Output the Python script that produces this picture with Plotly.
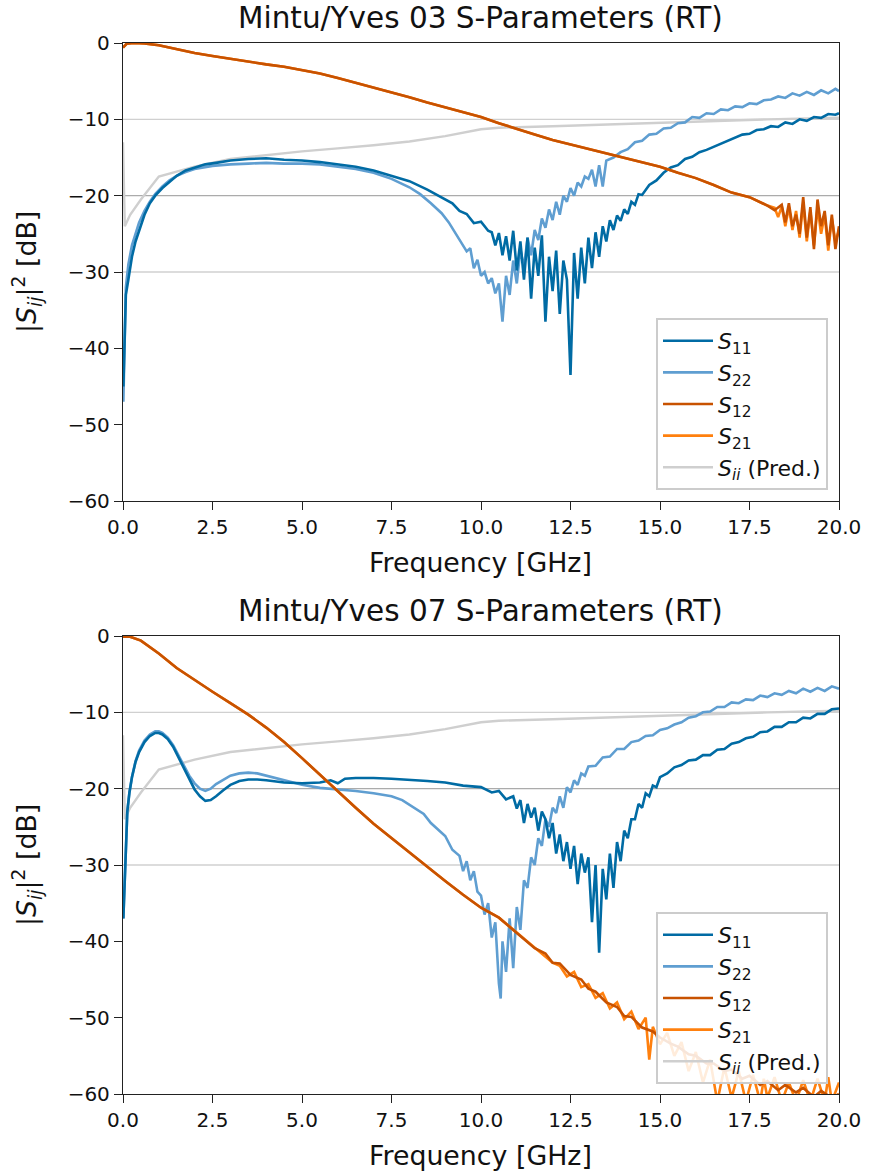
import plotly.graph_objects as go

# ---------------- Data: Mintu/Yves 03 ----------------
f_s11_03 = [0.01, 0.04, 0.08, 0.15, 0.25, 0.35, 0.45, 0.6, 0.75, 0.9, 1.1, 1.3, 1.5, 1.75, 2.0, 2.3, 2.6, 3.0, 3.5, 4.0,
            4.5, 5.0, 5.5, 6.0, 6.5, 7.0, 7.5, 8.0, 8.5, 9.0, 9.2, 9.4, 9.6, 9.8, 10.0, 10.2,
            10.3, 10.4, 10.5, 10.6, 10.7, 10.8, 10.9, 11.0, 11.1, 11.2, 11.3, 11.4, 11.5, 11.6, 11.7, 11.8, 11.9,
            12.0, 12.1, 12.2, 12.3, 12.4, 12.5, 12.6, 12.7, 12.8, 12.9, 13.0, 13.1, 13.2, 13.3, 13.4, 13.5, 13.6,
            13.7, 13.8, 13.9, 14.0, 14.1, 14.2, 14.3, 14.4, 14.5, 14.7, 14.9, 15.1, 15.3, 15.5, 15.7, 15.9, 16.1,
            16.3, 16.5, 16.7, 16.9, 17.1, 17.3, 17.5, 17.7, 17.9, 18.1, 18.3, 18.5, 18.7, 18.9, 19.1, 19.3, 19.5,
            19.7, 19.9, 20.0]
s11_03 = [-45, -40, -33, -31, -28, -26, -24.5, -22.5, -21, -20, -19, -18.2, -17.4, -16.7, -16.3, -15.9, -15.7, -15.4, -15.2, -15.1,
          -15.3, -15.4, -15.6, -15.9, -16.2, -16.7, -17.4, -18.1, -19.2, -20.5, -21.0, -22.0, -22.4, -23.6, -23.4, -24.6,
          -24.8, -26.5, -24.9, -27.8, -25.3, -28.5, -24.6, -29.8, -26.0, -31.0, -25.5, -33.5, -26.8, -30.5, -25.2, -36.5, -28.0,
          -32.5, -27.2, -35.5, -28.5, -31.0, -43.5, -27.5, -33.5, -26.8, -31.5, -25.5, -29.5, -24.8, -28.0, -24.0, -26.0, -23.2,
          -24.5, -22.6, -23.3, -21.8, -22.4, -20.8, -21.2, -19.8, -19.9, -18.6, -18.0, -17.0, -16.3, -16.0, -15.2, -14.9, -14.3,
          -14.0, -13.6, -13.2, -12.8, -12.4, -12.0, -11.9, -11.4, -11.3, -10.9, -11.0, -10.4, -10.6, -10.0, -10.2, -9.7, -9.8,
          -9.3, -9.4, -9.2]

f_s22_03 = [0.01, 0.04, 0.08, 0.15, 0.25, 0.35, 0.45, 0.6, 0.75, 0.9, 1.1, 1.3, 1.5, 1.75, 2.0, 2.5, 3.0, 3.5, 4.0, 4.5,
            5.0, 5.5, 6.0, 6.5, 7.0, 7.5, 8.0, 8.3, 8.6, 8.9, 9.1, 9.3, 9.5, 9.6, 9.7, 9.8, 9.9, 10.0, 10.1, 10.2,
            10.3, 10.4, 10.5, 10.6, 10.7, 10.8, 10.9, 11.0, 11.1, 11.2, 11.3, 11.4, 11.5, 11.6, 11.7, 11.8, 11.9, 12.0,
            12.1, 12.2, 12.3, 12.4, 12.5, 12.6, 12.7, 12.8, 12.9, 13.0, 13.1, 13.2, 13.3, 13.4, 13.5, 13.7, 13.9, 14.1,
            14.3, 14.5, 14.7, 14.9, 15.1, 15.3, 15.5, 15.7, 15.9, 16.1, 16.3, 16.5, 16.7, 16.9, 17.1, 17.3, 17.5, 17.7,
            17.9, 18.1, 18.3, 18.5, 18.7, 18.9, 19.1, 19.3, 19.5, 19.7, 19.9, 20.0]
s22_03 = [-47, -38, -32, -29, -26.5, -25, -23.5, -22, -20.8, -19.8, -18.8, -18.0, -17.4, -16.9, -16.5, -16.1, -15.9, -15.8, -15.7, -15.8,
          -15.8, -15.9, -16.2, -16.5, -17.0, -17.8, -18.9, -19.8, -21.0, -22.3, -23.5, -25.0, -26.5, -27.3, -26.9, -29.5, -28.4, -30.5, -30.0, -31.5,
          -30.8, -32.8, -31.5, -36.5, -30.5, -33.0, -28.5, -31.5, -27.0, -29.5, -25.5, -27.8, -24.5, -25.8, -23.0, -24.2, -21.8, -23.2,
          -20.8, -22.5, -20.0, -20.8, -19.0, -20.0, -18.3, -18.8, -17.5, -17.8, -16.6, -18.8, -16.0, -18.8, -15.4, -15.0, -14.3, -13.9,
          -13.0, -12.8, -12.0, -11.9, -11.2, -11.1, -10.5, -10.4, -9.7, -9.8, -9.2, -9.3, -8.7, -8.8, -8.3, -8.4, -7.9, -8.0,
          -7.5, -7.4, -7.0, -7.2, -6.6, -6.9, -6.4, -6.8, -6.2, -6.6, -6.0, -6.3]

f_s12_03 = [0.0, 0.1, 0.3, 0.6, 1.0, 1.5, 2.0, 2.5, 3.0, 3.5, 4.0, 4.5, 5.0, 5.5, 6.0, 6.5, 7.0, 7.5, 8.0, 8.5,
            9.0, 9.5, 10.0, 10.5, 11.0, 11.5, 12.0, 12.5, 13.0, 13.5, 14.0, 14.5, 15.0, 15.5, 16.0, 16.5, 17.0, 17.5,
            17.8, 18.0, 18.2, 18.4, 18.5, 18.6, 18.7, 18.8, 18.9, 19.0, 19.1, 19.2, 19.3, 19.4, 19.5, 19.6, 19.7,
            19.8, 19.9, 20.0]
s12_03 = [-0.6, -0.1, 0.0, -0.05, -0.3, -0.8, -1.3, -1.7, -2.1, -2.4, -2.8, -3.1, -3.5, -4.0, -4.6, -5.2, -5.8, -6.5, -7.1, -7.8,
          -8.4, -9.1, -9.7, -10.5, -11.3, -12.0, -12.7, -13.3, -13.9, -14.5, -15.0, -15.6, -16.2, -17.0, -17.7, -18.6, -19.6, -20.2,
          -20.8, -21.3, -21.9, -21.2, -23.5, -21.0, -24.0, -22.5, -25.0, -20.2, -25.5, -21.5, -27.0, -20.5, -24.0, -22.0, -26.5,
          -22.5, -27.0, -24.0]

f_s21_03 = [0.0, 0.1, 0.3, 0.6, 1.0, 1.5, 2.0, 2.5, 3.0, 3.5, 4.0, 4.5, 5.0, 5.5, 6.0, 6.5, 7.0, 7.5, 8.0, 8.5,
            9.0, 9.5, 10.0, 10.5, 11.0, 11.5, 12.0, 12.5, 13.0, 13.5, 14.0, 14.5, 15.0, 15.5, 16.0, 16.5, 17.0, 17.5,
            18.0, 18.2, 18.3, 18.4, 18.5, 18.6, 18.7, 18.8, 18.9, 19.0, 19.1, 19.2, 19.3, 19.4, 19.5, 19.6, 19.7,
            19.8, 19.9, 20.0]
s21_03 = [-0.6, -0.1, 0.0, -0.05, -0.3, -0.8, -1.3, -1.7, -2.1, -2.4, -2.8, -3.1, -3.5, -4.0, -4.6, -5.2, -5.8, -6.5, -7.1, -7.8,
          -8.4, -9.1, -9.7, -10.5, -11.3, -12.0, -12.7, -13.3, -13.9, -14.5, -15.0, -15.6, -16.2, -17.0, -17.7, -18.6, -19.6, -20.2,
          -21.3, -21.6, -22.8, -21.4, -24.0, -21.5, -24.5, -22.0, -25.5, -21.0, -26.0, -22.0, -26.5, -21.5, -25.0, -22.5, -27.2,
          -23.0, -26.0, -24.5]

# ---------------- Data: Mintu/Yves 07 ----------------
f_s11_07 = [0.01, 0.04, 0.08, 0.12, 0.18, 0.25, 0.35, 0.45, 0.6, 0.75, 0.9, 1.0, 1.1, 1.25, 1.4, 1.55, 1.7, 1.85, 2.0, 2.15,
            2.3, 2.45, 2.6, 2.8, 3.0, 3.25, 3.5, 3.75, 4.0, 4.5, 5.0, 5.5, 5.8, 6.0, 6.2, 6.5, 7.0, 7.5, 8.0, 8.5,
            9.0, 9.5, 10.0, 10.3, 10.5, 10.7, 10.9, 11.0, 11.1, 11.2, 11.3, 11.4, 11.5, 11.6, 11.7, 11.8, 11.9, 12.0,
            12.1, 12.2, 12.3, 12.4, 12.5, 12.6, 12.7, 12.8, 12.9, 13.0, 13.1, 13.2, 13.3, 13.4, 13.5, 13.6, 13.7, 13.8,
            13.9, 14.0, 14.1, 14.2, 14.3, 14.4, 14.5, 14.6, 14.7, 14.8, 14.9, 15.0, 15.2, 15.4, 15.6, 15.8, 16.0, 16.2,
            16.4, 16.6, 16.8, 17.0, 17.2, 17.4, 17.6, 17.8, 18.0, 18.2, 18.4, 18.6, 18.8, 19.0, 19.2, 19.4, 19.6, 19.8, 20.0]
s11_07 = [-37, -33, -27, -23, -20.5, -18.5, -16.5, -15.2, -13.9, -13.1, -12.7, -12.7, -12.9, -13.5, -14.5, -15.9, -17.4, -18.9, -20.1, -21.0,
          -21.6, -21.5, -21.0, -20.2, -19.5, -19.0, -18.8, -18.8, -18.9, -19.2, -19.3, -19.2, -18.9, -19.3, -18.7, -18.6, -18.6, -18.7, -18.8, -19.0,
          -19.2, -19.6, -19.8, -20.5, -20.3, -21.4, -21.0, -22.6, -21.5, -24.5, -22.0, -23.8, -22.5, -25.5, -23.0, -24.0, -26.5, -24.5,
          -28.5, -26.0, -29.5, -27.0, -30.5, -27.5, -32.5, -28.5, -31.0, -29.0, -37.5, -30.0, -41.5, -30.5, -34.5, -28.5, -33.0, -27.0,
          -29.5, -25.5, -26.5, -24.0, -24.0, -22.0, -22.5, -20.6, -21.0, -19.6, -19.8, -18.5, -18.0, -17.2, -16.9, -16.3, -16.2, -15.6,
          -15.6, -14.9, -14.8, -14.1, -13.9, -13.4, -13.2, -12.6, -12.5, -11.9, -11.9, -11.3, -11.3, -10.7, -10.8, -10.2, -10.2, -9.6, -9.5]

f_s22_07 = [0.01, 0.04, 0.08, 0.12, 0.18, 0.25, 0.35, 0.45, 0.6, 0.75, 0.9, 1.0, 1.1, 1.25, 1.4, 1.55, 1.7, 1.85, 2.0, 2.15,
            2.3, 2.45, 2.6, 2.8, 3.0, 3.25, 3.5, 3.75, 4.0, 4.5, 5.0, 5.5, 6.0, 6.5, 7.0, 7.5, 7.8, 8.0, 8.2, 8.4,
            8.6, 8.8, 9.0, 9.2, 9.4, 9.5, 9.6, 9.7, 9.8, 9.9, 10.0, 10.1, 10.2, 10.3, 10.4, 10.5, 10.55, 10.6, 10.7, 10.8,
            10.9, 11.0, 11.1, 11.2, 11.3, 11.4, 11.5, 11.6, 11.7, 11.8, 11.9, 12.0, 12.1, 12.2, 12.3, 12.4, 12.5, 12.6,
            12.7, 12.8, 12.9, 13.0, 13.2, 13.4, 13.6, 13.8, 14.0, 14.2, 14.4, 14.6, 14.8, 15.0, 15.2, 15.4, 15.6, 15.8,
            16.0, 16.2, 16.4, 16.6, 16.8, 17.0, 17.2, 17.4, 17.6, 17.8, 18.0, 18.2, 18.4, 18.6, 18.8, 19.0, 19.2, 19.4,
            19.6, 19.8, 20.0]
s22_07 = [-37, -33, -27, -23, -20.5, -18.5, -16.4, -15.0, -13.7, -12.9, -12.5, -12.5, -12.7, -13.3, -14.3, -15.6, -17.0, -18.3, -19.3, -20.0,
          -20.3, -20.0, -19.4, -18.8, -18.3, -18.0, -17.9, -18.0, -18.3, -18.9, -19.5, -19.9, -20.1, -20.3, -20.6, -21.0, -21.5, -22.1, -22.8, -23.3,
          -24.5, -25.4, -26.2, -28.0, -28.8, -30.8, -29.5, -32.0, -30.8, -33.5, -34.0, -36.5, -35.0, -39.5, -37.5, -45.5, -47.5, -40.0, -44.0, -37.0,
          -43.5, -35.5, -38.5, -32.0, -33.0, -29.0, -30.0, -26.5, -27.5, -24.0, -25.0, -22.5, -23.2, -21.0, -22.5, -19.8, -20.5, -18.9,
          -19.5, -18.0, -18.3, -17.1, -17.0, -15.9, -15.8, -14.8, -14.8, -13.9, -13.7, -13.1, -13.0, -12.3, -12.1, -11.6, -11.3, -10.7,
          -10.5, -10.0, -9.9, -9.3, -9.3, -8.7, -8.8, -8.3, -8.4, -7.8, -8.0, -7.5, -7.7, -7.2, -7.5, -6.9, -7.3, -6.8,
          -7.2, -6.6, -6.9]

f_s12_07 = [0.0, 0.2, 0.5, 1.0, 1.5, 2.0, 2.5, 3.0, 3.5, 4.0, 4.5, 5.0, 5.5, 6.0, 6.5, 7.0, 7.5, 8.0, 8.5, 9.0,
            9.5, 10.0, 10.5, 11.0, 11.5, 11.8, 12.0, 12.2, 12.5, 12.8, 13.0, 13.2, 13.5, 13.8, 14.0, 14.2, 14.5, 14.8,
            15.0, 15.3, 15.5, 15.8, 16.0, 16.3, 16.5, 16.8, 17.0, 17.3, 17.5, 17.8, 18.0, 18.3, 18.5, 18.8, 19.0, 19.3,
            19.5, 19.8, 20.0]
s12_07 = [-0.1, -0.1, -0.6, -2.3, -4.2, -5.8, -7.3, -8.8, -10.3, -12.0, -13.9, -16.0, -18.2, -20.4, -22.5, -24.6, -26.5, -28.4, -30.3, -32.1,
          -33.9, -35.6, -36.9, -38.9, -40.9, -41.6, -42.8, -42.9, -44.4, -45.0, -46.2, -46.6, -48.0, -48.6, -49.8, -49.9, -51.3, -51.8,
          -52.6, -53.4, -53.8, -54.8, -55.0, -56.0, -56.0, -57.0, -56.8, -58.0, -57.6, -58.8, -58.3, -59.5, -58.8, -59.8, -59.2, -60.4,
          -59.6, -60.5, -60.0]

f_s21_07 = [0.0, 0.2, 0.5, 1.0, 1.5, 2.0, 2.5, 3.0, 3.5, 4.0, 4.5, 5.0, 5.5, 6.0, 6.5, 7.0, 7.5, 8.0, 8.5, 9.0,
            9.5, 10.0, 10.5, 11.0, 11.5, 12.0, 12.2, 12.4, 12.6, 12.8, 13.0, 13.2, 13.4, 13.6, 13.8, 14.0, 14.2, 14.4,
            14.6, 14.7, 14.8, 15.0, 15.2, 15.4, 15.6, 15.8, 16.0, 16.2, 16.4, 16.6, 16.8, 17.0, 17.2, 17.4, 17.6, 17.8,
            17.9, 18.0, 18.2, 18.4, 18.6, 18.8, 19.0, 19.2, 19.4, 19.6, 19.7, 19.8, 20.0]
s21_07 = [-0.1, -0.1, -0.6, -2.3, -4.2, -5.8, -7.3, -8.8, -10.3, -12.0, -13.9, -16.0, -18.2, -20.4, -22.5, -24.6, -26.5, -28.4, -30.3, -32.1,
          -33.9, -35.6, -36.9, -38.9, -40.9, -42.8, -43.2, -44.6, -44.0, -46.0, -45.6, -47.4, -46.8, -48.8, -48.0, -50.2, -49.2, -51.5,
          -50.0, -55.5, -51.2, -53.5, -52.0, -55.0, -53.2, -57.0, -54.5, -58.5, -55.5, -61.0, -56.5, -60.5, -57.0, -61.0, -57.5, -61.0,
          -58.0, -60.5, -57.8, -61.0, -58.5, -61.0, -58.2, -61.0, -58.0, -61.0, -57.8, -61.0, -58.5]

# ---------------- Predicted S_ii (same in both panels) ----------------
f_pred = [0.0, 0.05, 0.2, 0.5, 1.0, 2.0, 3.0, 4.0, 5.0, 6.0, 7.0, 8.0, 9.0, 10.0, 10.5, 12.0, 14.0, 16.0, 18.0, 20.0]
s_pred = [-13.0, -24.0, -22.5, -20.5, -17.5, -16.2, -15.2, -14.7, -14.2, -13.8, -13.4, -12.9, -12.2, -11.3, -11.1, -10.9, -10.6, -10.3, -10.0, -9.8]

# ---------------- Styling ----------------
C_S11 = "#006BA4"
C_S22 = "#5F9ED1"
C_S12 = "#C85200"
C_S21 = "#FF800E"
C_PRED = "#CFCFCF"
FONT = "DejaVu Sans"

W, H = 870, 1175
PX0, PX1 = 123, 839
PANELS = [  # (top px, bottom px)
    (43, 501),
    (636, 1094),
]

fig = go.Figure()

panels_data = [
    dict(title="Mintu/Yves 03 S-Parameters (RT)",
         s11=(f_s11_03, s11_03), s22=(f_s22_03, s22_03), s12=(f_s12_03, s12_03), s21=(f_s21_03, s21_03)),
    dict(title="Mintu/Yves 07 S-Parameters (RT)",
         s11=(f_s11_07, s11_07), s22=(f_s22_07, s22_07), s12=(f_s12_07, s12_07), s21=(f_s21_07, s21_07)),
]

names = {
    "s11": "<i>S</i><sub>11</sub>",
    "s22": "<i>S</i><sub>22</sub>",
    "s12": "<i>S</i><sub>12</sub>",
    "s21": "<i>S</i><sub>21</sub>",
    "pred": "<i>S<sub>ii</sub></i> (Pred.)",
}
ranks = {"s11": 1, "s22": 2, "s12": 3, "s21": 4, "pred": 5}
colors = {"s11": C_S11, "s22": C_S22, "s12": C_S12, "s21": C_S21, "pred": C_PRED}

for i, pdict in enumerate(panels_data):
    xa = "x" if i == 0 else "x2"
    ya = "y" if i == 0 else "y2"
    lg = "legend" if i == 0 else "legend2"
    series = [
        ("pred", (f_pred, s_pred)),
        ("s22", pdict["s22"]),
        ("s11", pdict["s11"]),
        ("s21", pdict["s21"]),
        ("s12", pdict["s12"]),
    ]
    for key, (fx, vy) in series:
        fig.add_trace(go.Scatter(
            x=fx, y=vy, mode="lines", name=names[key],
            line=dict(color=colors[key], width=2.6 if key != "pred" else 2.4),
            xaxis=xa, yaxis=ya, legend=lg, legendrank=ranks[key],
            showlegend=True,
        ))

axis_common = dict(
    showgrid=False, zeroline=False, showline=True, mirror=True, automargin=False,
    linecolor="#222222", linewidth=1.3, ticks="outside", ticklen=8, tickwidth=1.3,
    tickcolor="#222222", tickfont=dict(family=FONT, size=20, color="#111111"),
)

for i, (top, bot) in enumerate(PANELS):
    xname = "xaxis" if i == 0 else "xaxis2"
    yname = "yaxis" if i == 0 else "yaxis2"
    yd = [1 - bot / H, 1 - top / H]
    xd = [PX0 / W, PX1 / W]
    fig.layout[xname] = dict(axis_common, domain=xd, range=[0, 20],
                             tickvals=[0, 2.5, 5, 7.5, 10, 12.5, 15, 17.5, 20],
                             ticktext=["0.0", "2.5", "5.0", "7.5", "10.0", "12.5", "15.0", "17.5", "20.0"],
                             anchor="y" if i == 0 else "y2")
    fig.layout[yname] = dict(axis_common, domain=yd, range=[-60, 0],
                             tickvals=[-60, -50, -40, -30, -20, -10, 0],
                             anchor="x" if i == 0 else "x2")

    xref = "x" if i == 0 else "x2"
    yref = "y" if i == 0 else "y2"
    for lvl, col in [(-10, "#D0D0D0"), (-20, "#ABABAB"), (-30, "#D0D0D0")]:
        fig.add_shape(type="line", xref=xref, yref=yref, x0=0, x1=20, y0=lvl, y1=lvl,
                      line=dict(color=col, width=1.3), layer="below")

    # Title
    fig.add_annotation(text=panels_data[i]["title"], xref="paper", yref="paper",
                       x=(PX0 + PX1) / 2 / W, y=1 - (top - 25) / H, xanchor="center", yanchor="middle",
                       showarrow=False, font=dict(family=FONT, size=29.5, color="#111111"))
    # X label
    fig.add_annotation(text="Frequency [GHz]", xref="paper", yref="paper",
                       x=(PX0 + PX1) / 2 / W, y=1 - (bot + 61) / H, xanchor="center", yanchor="middle",
                       showarrow=False, font=dict(family=FONT, size=26.8, color="#111111"))
    # Y label
    fig.add_annotation(text="|<i>S<sub>ij</sub></i>|<sup>2</sup> [dB]", xref="paper", yref="paper",
                       x=27 / W, y=1 - ((top + bot) / 2) / H, xanchor="center", yanchor="middle",
                       textangle=-90, showarrow=False, font=dict(family=FONT, size=26.8, color="#111111"))

legend_common = dict(
    font=dict(family=FONT, size=22, color="#111111"),
    bgcolor="rgba(255,255,255,0.85)", bordercolor="#CCCCCC", borderwidth=2,
    xanchor="right", yanchor="bottom", traceorder="normal", itemwidth=50,
)
fig.update_layout(
    width=W, height=H,
    margin=dict(l=0, r=0, t=0, b=0, autoexpand=False),
    paper_bgcolor="white", plot_bgcolor="white",
    legend=dict(legend_common, x=828 / W, y=1 - 490 / H),
    legend2=dict(legend_common, x=828 / W, y=1 - 1084 / H),
    showlegend=True,
)

fig.write_html("out.html")
